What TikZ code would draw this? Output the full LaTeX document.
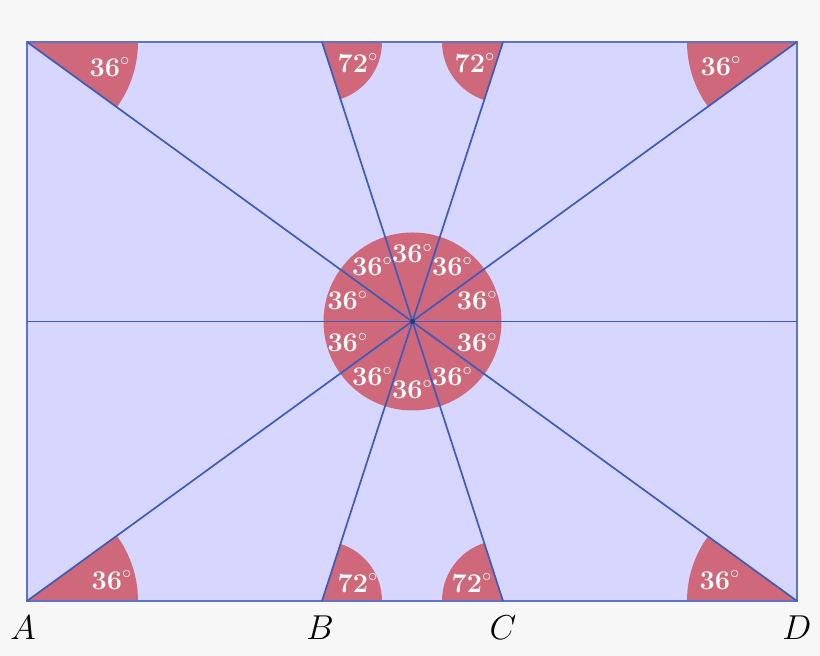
\documentclass[tikz,border=0pt]{standalone}
\usepackage{amsmath}
\definecolor{bgcol}{HTML}{F7F7F7}
\definecolor{rectcol}{HTML}{D6D6FF}
\definecolor{sectcol}{HTML}{CE687A}
\definecolor{linecol}{HTML}{3F5BB8}
\begin{document}
\begin{tikzpicture}[x=0.5pt,y=0.5pt]
\tikzstyle{sector}=[fill=sectcol]
\tikzstyle{ray}=[draw=linecol, line width=0.85pt]
\tikzstyle{deg}=[text=white, font=\fontsize{13.5}{16}\selectfont, inner sep=0pt]
\tikzstyle{pt}=[font=\fontsize{17}{20}\selectfont, inner sep=0pt]
\fill [bgcol] (0,0) rectangle (820,656);
\useasboundingbox (0,0) rectangle (820,656);
\coordinate (A) at (27,55);
\coordinate (B) at (322,55);
\coordinate (C) at (503,55);
\coordinate (D) at (797,55);
\coordinate (P) at (27,614);
\coordinate (E) at (322,614);
\coordinate (F) at (503,614);
\coordinate (Q) at (797,614);
\coordinate (L) at (27,334.5);
\coordinate (R) at (797,334.5);
\coordinate (O) at (412.5,334.5);
\fill [rectcol] (A) rectangle (Q);
% angle sectors
\fill [sector] (A) -- ++(0:111) arc (0:36:111) -- cycle;
\fill [sector] (D) -- ++(144:110) arc (144:180:110) -- cycle;
\fill [sector] (P) -- ++(-36:111) arc (-36:0:111) -- cycle;
\fill [sector] (Q) -- ++(180:110) arc (180:216:110) -- cycle;
\fill [sector] (B) -- ++(0:60) arc (0:72:60) -- cycle;
\fill [sector] (C) -- ++(108:61) arc (108:180:61) -- cycle;
\fill [sector] (E) -- ++(-72:60) arc (-72:0:60) -- cycle;
\fill [sector] (F) -- ++(180:61) arc (180:252:61) -- cycle;
\fill [sector] (O) circle (89);
% lines
\draw [linecol!85, line width=0.7pt] (A) rectangle (Q);
\draw [ray] (L) -- (R);
\draw [ray] (A) -- (Q);
\draw [ray] (D) -- (P);
\draw [ray] (B) -- (F);
\draw [ray] (C) -- (E);
\fill [linecol!60!black] (O) circle (2.5);
% angle labels
\foreach \a in {18,54,...,342}
  \path (O) ++(\a:68) node [deg] (c\a) {\textbf{36}$^\circ$};
\node [deg] (lA) at (112,76) {\textbf{36}$^\circ$};
\node [deg] (lD) at (720,76) {\textbf{36}$^\circ$};
\node [deg] (lP) at (110,589) {\textbf{36}$^\circ$};
\node [deg] (lQ) at (721,590) {\textbf{36}$^\circ$};
\node [deg] (lB) at (358,73) {\textbf{72}$^\circ$};
\node [deg] (lC) at (472,73) {\textbf{72}$^\circ$};
\node [deg] (lE) at (358,593) {\textbf{72}$^\circ$};
\node [deg] (lF) at (475,593) {\textbf{72}$^\circ$};
% point names
\node [pt] (nA) at (23,28) {$A$};
\node [pt] (nB) at (320,28) {$B$};
\node [pt] (nC) at (503,28) {$C$};
\node [pt] (nD) at (797,28) {$D$};
\end{tikzpicture}
\end{document}
